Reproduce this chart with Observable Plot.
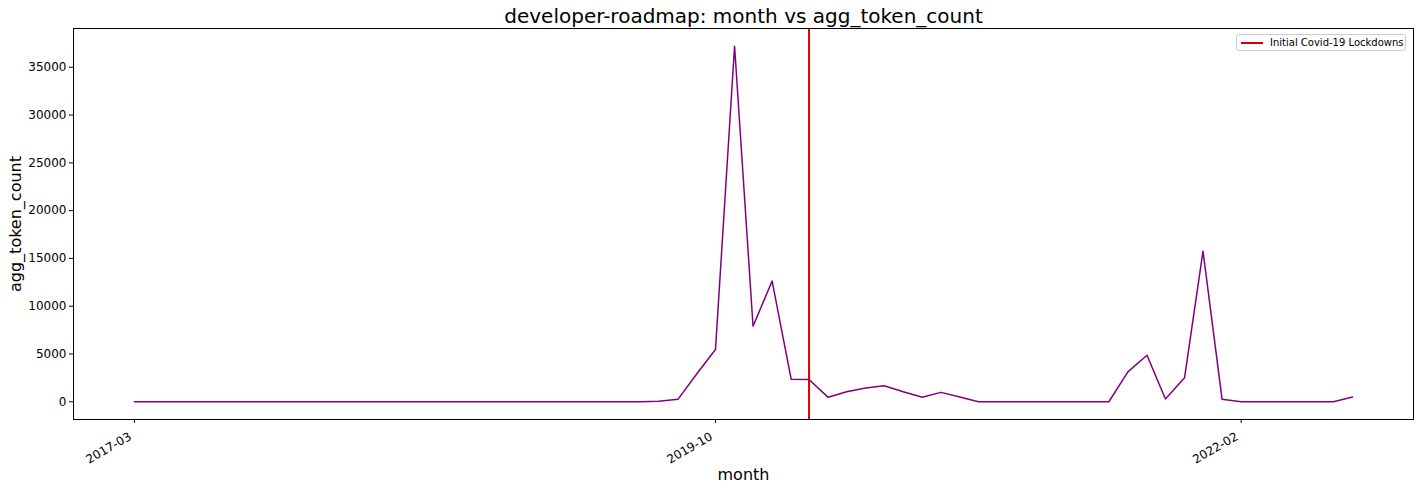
<!DOCTYPE html>
<html>
<head>
<meta charset="utf-8">
<script src="https://cdn.jsdelivr.net/npm/d3@7"></script>
<script src="https://cdn.jsdelivr.net/npm/@observablehq/plot@0.6"></script>
<style>
  html, body { margin: 0; padding: 0; background: #fff; }
  #wrap { position: relative; width: 1418px; height: 489px; font-family: "DejaVu Sans", sans-serif; }
  #legend { position: absolute; left: 1236px; top: 34px; width: 170px; height: 17px;
    border: 1px solid #ccc; border-radius: 3px; background: rgba(255,255,255,0.8);
    font-size: 10px; line-height: 17px; box-sizing: border-box; white-space: nowrap; }
  #legend .sw { position: absolute; left: 4px; top: 7px; width: 22px; height: 2px; background: #d40000; }
  #legend .lb { position: absolute; left: 33px; top: -1px; color: #000; }
</style>
</head>
<body>
<div id="wrap"><div id="legend"><span class="sw"></span><span class="lb">Initial Covid-19 Lockdowns</span></div></div>
<script>
const titleText = "developer-roadmap: month vs agg_token_count";
const months = [
  "2017-03","2017-04","2017-05","2017-06","2017-07","2017-08","2017-09","2017-10","2017-11","2017-12",
  "2018-01","2018-02","2018-03","2018-04","2018-05","2018-06","2018-07","2018-08","2018-09","2018-10","2018-11","2018-12",
  "2019-01","2019-02","2019-03","2019-04","2019-05","2019-06","2019-07","2019-08","2019-09","2019-10","2019-11","2019-12",
  "2020-01","2020-02","2020-03","2020-04","2020-05","2020-06","2020-07","2020-08","2020-09","2020-10","2020-11","2020-12",
  "2021-01","2021-02","2021-03","2021-04","2021-05","2021-06","2021-07","2021-08","2021-09","2021-10","2021-11","2021-12",
  "2022-01","2022-02","2022-03","2022-04","2022-05","2022-06","2022-07","2022-08"
];
const tokenCounts = [
  0,0,0,0,0,0,0,0,0,0,
  0,0,0,0,0,0,0,0,0,0,0,0,
  0,0,0,0,0,0,50,250,2960,5470,37200,7900,
  12630,2340,2320,460,1040,1430,1670,1040,460,980,490,0,
  0,0,0,0,0,0,0,3130,4870,280,2500,15760,
  250,0,0,0,0,0,0,500
];
const xTickLabels = ["2017-03","2019-10","2022-02"];
const yTicks = [0,5000,10000,15000,20000,25000,30000,35000];
const covidMonth = ["2020-03"];

const parse = d3.utcParse("%Y-%m");
const data = months.map((m, i) => ({month: parse(m), value: tokenCounts[i]}));

const x0 = data[0].month, x1 = data[data.length - 1].month;
const span = x1 - x0;
const xDomain = [new Date(+x0 - span * 0.05), new Date(+x1 + span * 0.05)];
const yMax = d3.max(tokenCounts), yMin = d3.min(tokenCounts);
const ySpan = yMax - yMin;
const yDomain = [yMin - ySpan * 0.05, yMax + ySpan * 0.05];
const xTicks = xTickLabels.map(parse);

const chart = Plot.plot({
  width: 1418,
  height: 489,
  marginLeft: 73,
  marginRight: 5,
  marginTop: 28,
  marginBottom: 70,
  style: {fontFamily: "DejaVu Sans, sans-serif", background: "#fff", color: "#000", overflow: "visible"},
  x: {type: "utc", domain: xDomain},
  y: {domain: yDomain},
  marks: [
    Plot.axisY({ticks: yTicks, tickSize: 4, tickPadding: 3, fontSize: 12, label: null, tickFormat: d => String(d)}),
    Plot.axisX({ticks: xTicks, tickSize: 4, tickFormat: () => "", label: null}),
    Plot.axisX({ticks: xTicks, tickSize: 0, tickPadding: 6, fontSize: 12, tickRotate: -30, dx: -4, dy: 10,
      tickFormat: d3.utcFormat("%Y-%m"), label: null}),
    Plot.text(["agg_token_count"], {frameAnchor: "left", dx: -58, rotate: -90, fontSize: 16, textAnchor: "middle"}),
    Plot.text(["month"], {frameAnchor: "bottom", dy: 60, fontSize: 16}),
    Plot.text([titleText], {frameAnchor: "top", dy: -20, fontSize: 20}),
    Plot.line(data, {x: "month", y: "value", stroke: "purple", strokeWidth: 1.5}),
    Plot.ruleX(covidMonth.map(parse), {stroke: "#d40000", strokeWidth: 2}),
    Plot.frame({stroke: "#000", strokeWidth: 1})
  ]
});
document.getElementById("wrap").insertBefore(chart, document.getElementById("legend"));
</script>
</body>
</html>
